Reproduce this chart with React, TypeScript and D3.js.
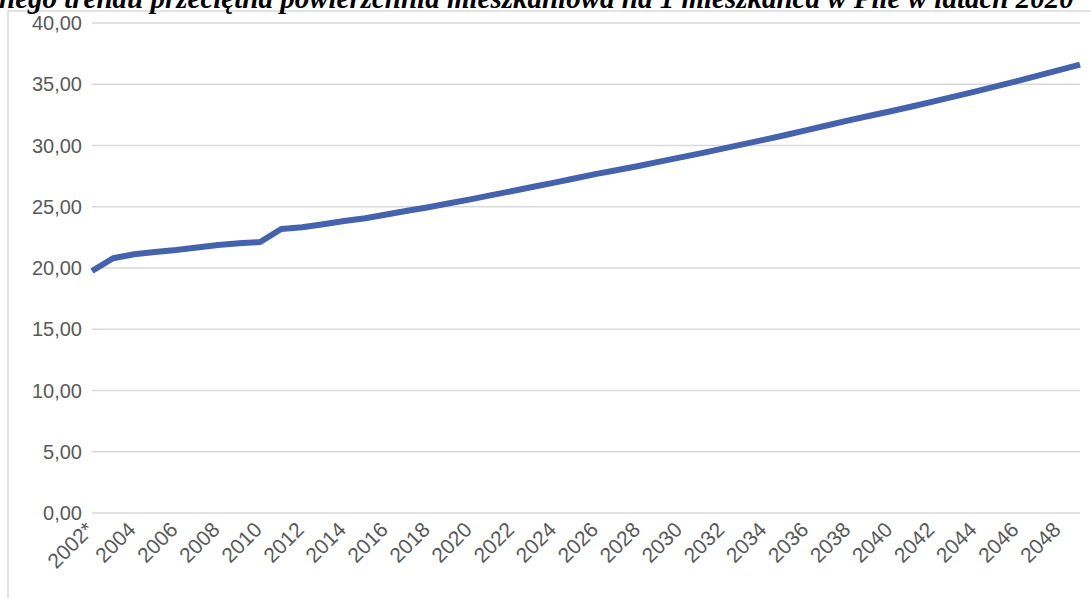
import React, { useEffect, useRef } from "react";
import * as d3 from "d3";

// category labels (years) - first one is marked with an asterisk
const years: string[] = [
  "2002*", "2003", "2004", "2005", "2006", "2007", "2008", "2009", "2010", "2011",
  "2012", "2013", "2014", "2015", "2016", "2017", "2018", "2019", "2020", "2021",
  "2022", "2023", "2024", "2025", "2026", "2027", "2028", "2029", "2030", "2031",
  "2032", "2033", "2034", "2035", "2036", "2037", "2038", "2039", "2040", "2041",
  "2042", "2043", "2044", "2045", "2046", "2047", "2048", "2049",
];

// average floor area per inhabitant (m2)
const area: number[] = [
  19.75, 20.8, 21.12, 21.3, 21.47, 21.68, 21.88, 22.02, 22.12, 23.18,
  23.32, 23.57, 23.84, 24.06, 24.37, 24.67, 24.96, 25.28, 25.6, 25.95,
  26.28, 26.63, 26.97, 27.33, 27.68, 28.0, 28.33, 28.68, 29.03, 29.38,
  29.74, 30.11, 30.48, 30.86, 31.25, 31.65, 32.05, 32.43, 32.8, 33.18,
  33.58, 33.99, 34.4, 34.82, 35.25, 35.7, 36.15, 36.6,
];

const yTicks: number[] = [0, 5, 10, 15, 20, 25, 30, 35, 40];

const title =
  "nego trendu przeciętna powierzchnia mieszkaniowa na 1 mieszkańca w Pile w latach 2020";

const App: React.FC = () => {
  const ref = useRef<SVGSVGElement>(null);

  useEffect(() => {
    drawChart();
  }, []);

  const drawChart = () => {
    const width = 1091;
    const height = 598;
    const gridColor = "#d9d9d9";
    const textColor = "#595959";

    const svg = d3.select(ref.current);
    svg.selectAll("*").remove();
    svg.attr("width", width).attr("height", height);

    const x = d3.scalePoint<string>().domain(years).range([92, 1080]);
    const y = d3.scaleLinear().domain([0, 40]).range([513, 23]);

    // chart frame (only the left and top edges fall inside the picture)
    svg.append("line")
      .attr("x1", 8).attr("x2", width + 10)
      .attr("y1", 11).attr("y2", 11)
      .attr("stroke", gridColor).attr("stroke-width", 1.5);
    svg.append("line")
      .attr("x1", 8).attr("x2", 8)
      .attr("y1", 11).attr("y2", height + 10)
      .attr("stroke", gridColor).attr("stroke-width", 1.5);

    // title, clipped by the top of the image as in the source
    svg.append("text")
      .attr("x", -1)
      .attr("y", 8)
      .attr("font-family", "'Liberation Serif', 'DejaVu Serif', serif")
      .attr("font-weight", "bold")
      .attr("font-style", "italic")
      .attr("font-size", 29)
      .attr("fill", "#000")
      .text(title);

    // horizontal gridlines
    svg.append("g")
      .selectAll("line")
      .data(yTicks)
      .join("line")
      .attr("x1", 92)
      .attr("x2", 1080)
      .attr("y1", (d) => y(d))
      .attr("y2", (d) => y(d))
      .attr("stroke", gridColor)
      .attr("stroke-width", 1.5);

    // y labels
    const fmt = (v: number) => d3.format(".2f")(v).replace(".", ",");
    svg.append("g")
      .selectAll("text")
      .data(yTicks)
      .join("text")
      .attr("x", 82)
      .attr("y", (d) => y(d))
      .attr("dy", "0.35em")
      .attr("text-anchor", "end")
      .attr("font-family", "'Liberation Sans', Arial, sans-serif")
      .attr("font-size", 20)
      .attr("fill", textColor)
      .text((d) => fmt(d));

    // x labels, every second year, rotated
    svg.append("g")
      .selectAll("text")
      .data(years.filter((_, i) => i % 2 === 0))
      .join("text")
      .attr("transform", (d) => `translate(${(x(d) as number) + 3}, 531) rotate(-45)`)
      .attr("text-anchor", "end")
      .attr("font-family", "'Liberation Sans', Arial, sans-serif")
      .attr("font-size", 21)
      .attr("fill", textColor)
      .text((d) => d);

    // the series line
    const line = d3.line<number>()
      .x((_, i) => x(years[i]) as number)
      .y((d) => y(d));

    svg.append("path")
      .datum(area)
      .attr("d", line)
      .attr("fill", "none")
      .attr("stroke", "#4563ac")
      .attr("stroke-width", 6)
      .attr("stroke-linejoin", "round");
  };

  return (
    <svg
      ref={ref}
      style={{ position: "absolute", left: 0, top: 0, display: "block" }}
    />
  );
};

export default App;
